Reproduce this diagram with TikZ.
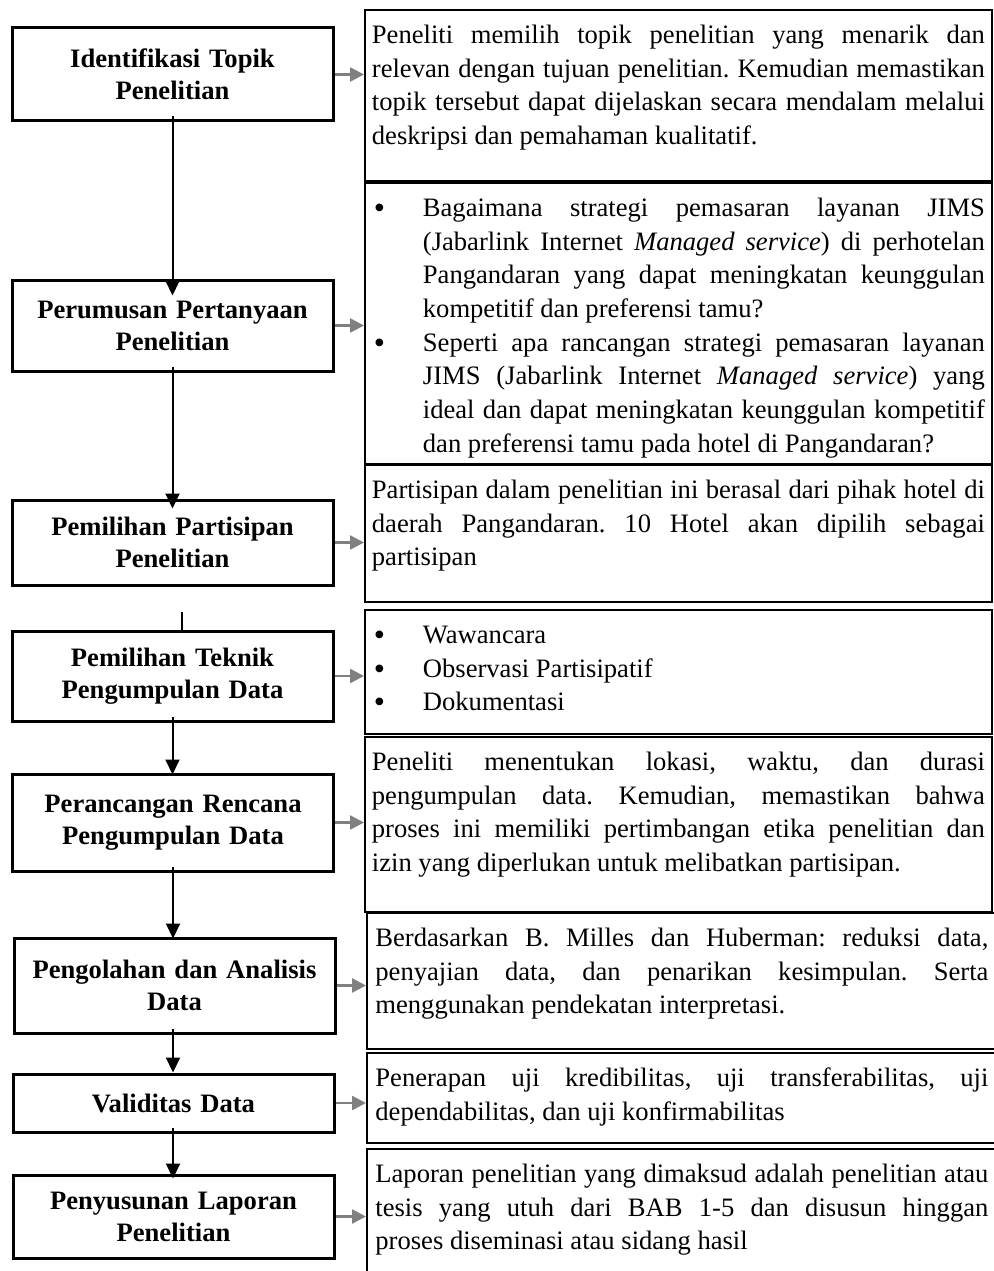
\documentclass[tikz,border=0pt]{standalone}
\usepackage{fontspec}
\setmainfont{Liberation Serif}
\usepackage{xcolor}
\usepackage{tikz}
\usetikzlibrary{arrows.meta}

\definecolor{arrowgray}{RGB}{128,128,128}

% text blocks of the note boxes (fixed height, top aligned, justified)
\newcommand\notesetup{\hsize=613pt\parindent=0pt\parskip=0pt\leftskip=0pt\rightskip=0pt
  \parfillskip=0pt plus 1fil\tolerance=10000\hbadness=10000\hyphenpenalty=10000
  \exhyphenpenalty=10000\frenchspacing}
\newcommand\boxtext[2]{\vbox to #1{\notesetup\noindent\strut #2\par\vfil}}
\newcommand\boxlist[2]{\vbox to #1{\notesetup #2\par\vfil}}
\newcommand\bitem{\par\noindent\hangindent=51pt\hangafter=1%
  \hbox to 51pt{\hspace{2pt}\smash{\raisebox{-2pt}{\fontsize{32}{32}\selectfont\textbullet}}\hfil}\strut}

\begin{document}
\begin{tikzpicture}[x=1pt,y=-1pt,
  stepbox/.style={draw, line width=3pt, minimum width=321pt, text width=305pt,
    align=center, inner sep=0pt, font=\fontsize{26.6}{32}\selectfont\bfseries},
  notebox/.style={draw, line width=1.8pt, anchor=north west, inner xsep=7pt,
    inner ysep=10pt, minimum width=627pt, font=\fontsize{26.6}{33.7}\selectfont},
  flow/.style={line width=2pt, -{Triangle[length=15pt,width=14pt]}, shorten <=-6pt},
  link/.style={arrowgray, line width=2.5pt, -{Triangle[length=14pt,width=14pt]}}]
\useasboundingbox (0,0) rectangle (993,1271);

% Steps of the research (left column)
\node[stepbox, minimum height=93pt] (l1) at (172.5,74.5) {Identifikasi Topik\\Penelitian};
\node[stepbox, minimum height=91pt] (l2) at (172.5,325.5) {Perumusan Pertanyaan\\Penelitian};
\node[stepbox, minimum height=85pt] (l3) at (172.5,542.5) {Pemilihan Partisipan\\Penelitian};
\node[stepbox, minimum height=90pt] (l4) at (172.5,676) {Pemilihan Teknik\\Pengumpulan Data};
\node[stepbox, minimum height=97pt] (l5) at (173,822.5) {Perancangan Rencana\\Pengumpulan Data};
\node[stepbox, minimum height=95pt] (l6) at (174.5,985.5) {Pengolahan dan Analisis\\Data};
\node[stepbox, minimum height=58pt] (l7) at (173.5,1103) {Validitas Data};
\node[stepbox, minimum height=83pt] (l8) at (173.5,1216.5) {Penyusunan Laporan\\Penelitian};

% Explanations (right column)
\node[notebox] (r1) at (364,9) {\boxtext{151pt}{Peneliti memilih topik penelitian yang menarik dan\linebreak
  relevan dengan tujuan penelitian. Kemudian memastikan\linebreak
  topik tersebut dapat dijelaskan secara mendalam melalui\linebreak
  deskripsi dan pemahaman kualitatif.}};
\node[notebox] (r2) at (364,182) {\boxlist{261pt}{%
  \bitem Bagaimana strategi pemasaran layanan JIMS\linebreak
  (Jabarlink Internet \textit{Managed service}) di perhotelan\linebreak
  Pangandaran yang dapat meningkatan keunggulan\linebreak
  kompetitif dan preferensi tamu?
  \bitem Seperti apa rancangan strategi pemasaran layanan\linebreak
  JIMS (Jabarlink Internet \textit{Managed service}) yang\linebreak
  ideal dan dapat meningkatan keunggulan kompetitif\linebreak
  dan preferensi tamu pada hotel di Pangandaran?}};
\node[notebox] (r3) at (364,464) {\boxtext{117pt}{Partisipan dalam penelitian ini berasal dari pihak hotel di\linebreak
  daerah Pangandaran. 10 Hotel akan dipilih sebagai\linebreak
  partisipan}};
\node[notebox] (r4) at (364,609) {\boxlist{104pt}{%
  \bitem Wawancara
  \bitem Observasi Partisipatif
  \bitem Dokumentasi}};
\node[notebox] (r5) at (364,736) {\boxtext{155pt}{Peneliti menentukan lokasi, waktu, dan durasi\linebreak
  pengumpulan data. Kemudian, memastikan bahwa\linebreak
  proses ini memiliki pertimbangan etika penelitian dan\linebreak
  izin yang diperlukan untuk melibatkan partisipan.}};
\node[notebox, minimum width=630pt] (r6) at (366,912) {\boxtext{116pt}{Berdasarkan B. Milles dan Huberman: reduksi data,\linebreak
  penyajian data, dan penarikan kesimpulan. Serta\linebreak
  menggunakan pendekatan interpretasi.}};
\node[notebox, minimum width=630pt] (r7) at (366,1052) {\boxtext{70pt}{Penerapan uji kredibilitas, uji transferabilitas, uji\linebreak
  dependabilitas, dan uji konfirmabilitas}};
\node[notebox, minimum width=630pt] (r8) at (366,1148) {\boxtext{127pt}{Laporan penelitian yang dimaksud adalah penelitian atau\linebreak
  tesis yang utuh dari BAB 1-5 dan disusun hinggan\linebreak
  proses diseminasi atau sidang hasil}};

% Flow between the steps
\draw[flow, shorten >=-17pt] (l1.south) -- (l1.south |- l2.north);
\draw[flow, shorten >=-10pt] (l2.south) -- (l2.south |- l3.north);
\coordinate (c4) at (182,612);
\draw[line width=2pt] (c4) -- (c4 |- l4.north);
\draw[flow, shorten >=-2pt] (l4.south) -- (l4.south |- l5.north);
\draw[flow, shorten >=-2pt] (l5.south) -- (l5.south |- l6.north);
\draw[flow] (l6.south -| l5.south) -- (l5.south |- l7.north);
\draw[flow, shorten >=-5pt] (l7.south -| l5.south) -- (l5.south |- l8.north);

% Steps to their explanations
\foreach \i in {1,...,8}
  \draw[link] (l\i.east) -- (l\i.east -| r\i.west);
\end{tikzpicture}
\end{document}
